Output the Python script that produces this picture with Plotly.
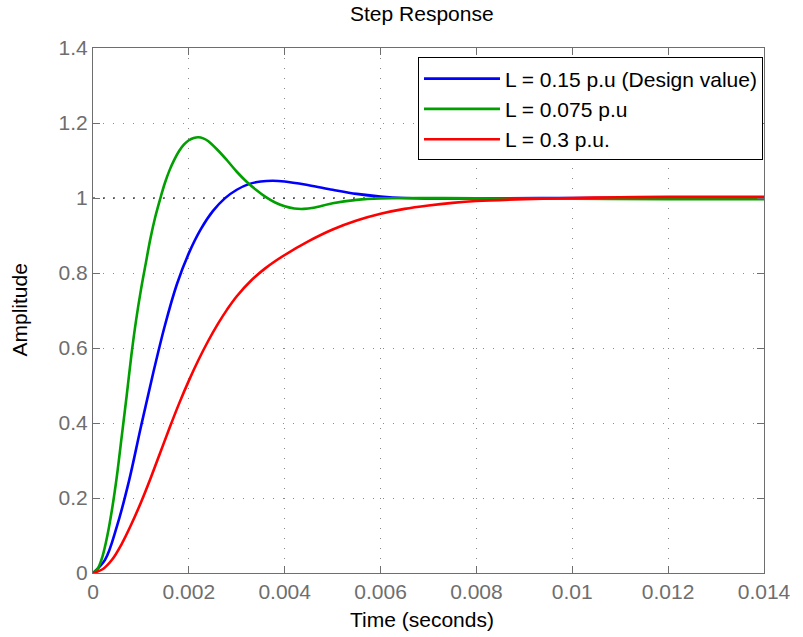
import plotly.graph_objects as go

# ---- data (time in seconds, amplitude) ----
t_green = [0, 0.0001, 0.0002, 0.0003, 0.0004, 0.0005, 0.0006, 0.0007, 0.0008, 0.0009, 0.001,
           0.0011, 0.0012, 0.0013, 0.0014, 0.0015, 0.0016, 0.0017, 0.0018, 0.0019, 0.002,
           0.0021, 0.0022, 0.0023, 0.0024, 0.0026, 0.0028, 0.003, 0.0032, 0.0034, 0.0036,
           0.0038, 0.004, 0.0042, 0.0044, 0.0046, 0.005, 0.0055, 0.006, 0.007, 0.008,
           0.01, 0.012, 0.014]
a_green = [0, 0.012, 0.045, 0.1, 0.172, 0.26, 0.365, 0.47, 0.58, 0.675, 0.755,
           0.825, 0.893, 0.95, 0.997, 1.04, 1.075, 1.103, 1.126, 1.143, 1.154,
           1.16, 1.162, 1.159, 1.152, 1.128, 1.1, 1.07, 1.044, 1.022, 1.003,
           0.988, 0.978, 0.972, 0.971, 0.974, 0.986, 0.995, 0.999, 1.0, 0.999,
           0.998, 0.997, 0.997]

t_blue = [0, 0.00025, 0.0005, 0.00075, 0.001, 0.00125, 0.0015, 0.00175, 0.002, 0.00225,
          0.0025, 0.00275, 0.003, 0.00325, 0.0035, 0.00375, 0.004, 0.0045, 0.005, 0.0055,
          0.006, 0.0065, 0.007, 0.008, 0.01, 0.012, 0.014]
a_blue = [0, 0.035, 0.125, 0.245, 0.39, 0.53, 0.66, 0.77, 0.853, 0.917,
          0.965, 0.999, 1.022, 1.037, 1.044, 1.046, 1.044, 1.034, 1.022, 1.011,
          1.004, 1.0, 0.999, 0.999, 1.0, 1.001, 1.002]

t_red = [0, 0.0002, 0.0004, 0.0006, 0.0008, 0.001, 0.0012, 0.0014, 0.0016, 0.0018, 0.002,
         0.0022, 0.0024, 0.0026, 0.0028, 0.003, 0.0033, 0.0036, 0.004, 0.0045, 0.005,
         0.0055, 0.006, 0.0065, 0.007, 0.0075, 0.008, 0.009, 0.01, 0.011, 0.012, 0.014]
a_red = [0, 0.01, 0.036, 0.078, 0.13, 0.188, 0.252, 0.32, 0.388, 0.453, 0.513,
         0.568, 0.618, 0.663, 0.703, 0.738, 0.78, 0.813, 0.848, 0.885, 0.916,
         0.94, 0.958, 0.971, 0.98, 0.987, 0.992, 0.997, 1.0, 1.002, 1.003, 1.003]

steady_t = [0, 0.014]
steady_a = [1, 1]

x_ticks = [0, 0.002, 0.004, 0.006, 0.008, 0.01, 0.012, 0.014]
x_tick_text = ["0", "0.002", "0.004", "0.006", "0.008", "0.01", "0.012", "0.014"]
y_ticks = [0, 0.2, 0.4, 0.6, 0.8, 1, 1.2, 1.4]
y_tick_text = ["0", "0.2", "0.4", "0.6", "0.8", "1", "1.2", "1.4"]

names = ["L = 0.15 p.u (Design value)", "L = 0.075 p.u", "L = 0.3 p.u."]
colors = ["#0000ff", "#00a000", "#ff0000"]

FONT = "Liberation Sans, Arial, Helvetica, sans-serif"
AX = "#6e6e6e"

fig = go.Figure()
fig.add_trace(go.Scatter(x=steady_t, y=steady_a, mode="lines", showlegend=False,
                         line=dict(color="black", width=1.2, dash="2px,8px"), hoverinfo="skip"))
for tt, aa, nm, c in [(t_blue, a_blue, names[0], colors[0]),
                      (t_green, a_green, names[1], colors[1]),
                      (t_red, a_red, names[2], colors[2])]:
    fig.add_trace(go.Scatter(x=tt, y=aa, mode="lines", name=nm,
                             line=dict(color=c, width=2.6, shape="spline", smoothing=1.0)))

axis_common = dict(showline=True, linecolor=AX, linewidth=1, mirror="ticks",
                   ticks="inside", ticklen=7, tickcolor=AX, tickwidth=1,
                   showgrid=True, gridcolor="#8a8a8a", gridwidth=1, griddash="1px,9px",
                   zeroline=False, tickfont=dict(family=FONT, size=21, color=AX))

fig.update_xaxes(range=[0, 0.014], tickvals=x_ticks, ticktext=x_tick_text, **axis_common)
fig.update_yaxes(range=[0, 1.4], tickvals=y_ticks, ticktext=y_tick_text, **axis_common)

fig.update_layout(
    width=803, height=637,
    margin=dict(l=93, r=28, t=48, b=64),
    paper_bgcolor="white", plot_bgcolor="white",
    font=dict(family=FONT, size=21, color="black"),
    showlegend=True,
    legend=dict(x=0.9985, xanchor="right", y=0.982, yanchor="top",
                bgcolor="white", bordercolor="black", borderwidth=1,
                font=dict(family=FONT, size=21, color="black"),
                itemwidth=76, tracegroupgap=0),
    annotations=[
        dict(text="Step Response", xref="paper", yref="paper", x=0.49, y=1,
             yshift=35, showarrow=False, xanchor="center", yanchor="middle",
             font=dict(family=FONT, size=21, color="black")),
        dict(text="Time (seconds)", xref="paper", yref="paper", x=0.49, y=0,
             yshift=-46, showarrow=False, xanchor="center", yanchor="middle",
             font=dict(family=FONT, size=21, color="black")),
        dict(text="Amplitude", xref="paper", yref="paper", x=0, y=0.5,
             xshift=-74, showarrow=False, textangle=-90, xanchor="center", yanchor="middle",
             font=dict(family=FONT, size=21, color="black")),
    ],
)

fig.write_html("out.html")
